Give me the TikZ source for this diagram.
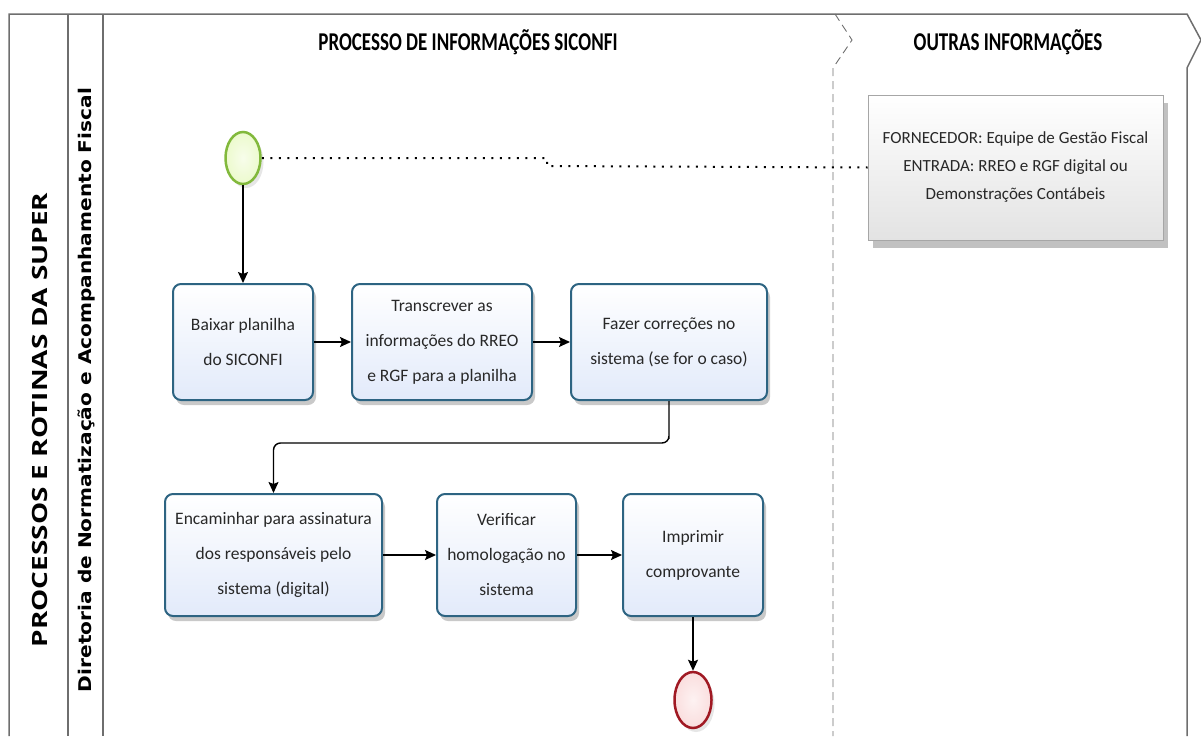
\documentclass[tikz,border=0pt]{standalone}
\usepackage{fontspec}
\setmainfont{Carlito}
\newfontfamily\lanefont{DejaVu Sans}
\newfontfamily\poolfont{Open Sans}
\usepackage{graphicx}
\usepackage{xcolor}
\usepackage{tikz}
\usetikzlibrary{arrows.meta}
\usetikzlibrary{shapes.geometric}
\usetikzlibrary{shadows}
\definecolor{taskline}{RGB}{45,100,130}
\definecolor{taskfill}{RGB}{226,234,250}
\definecolor{startline}{RGB}{130,185,60}
\definecolor{startfill}{RGB}{236,250,205}
\definecolor{endline}{RGB}{160,25,35}
\definecolor{endfill}{RGB}{250,222,222}
\definecolor{poolline}{RGB}{110,110,110}
\definecolor{textgray}{RGB}{40,40,40}
\tikzset{
  task/.style={draw=taskline, line width=2pt, rounded corners=8pt,
    top color=white, bottom color=taskfill, align=center, inner sep=3pt,
    drop shadow={shadow xshift=3pt, shadow yshift=-5pt, opacity=0.3, fill=black!70},
    font=\fontsize{17.5}{35}\selectfont, text=textgray},
  flow/.style={line width=1.4pt, -{Stealth[length=11pt,width=10pt,inset=2pt]}},
  assoc/.style={line width=2pt, dash pattern=on 2pt off 6.5pt},
  phase/.style={font=\bfseries\fontsize{19}{22}\selectfont}
}

\begin{document}
\begin{tikzpicture}[x=1pt,y=-1pt]
\useasboundingbox (0,0) rectangle (1201,736);
% pool and lanes
\draw[poolline, line width=1.5pt] (9,736) -- (9,14) -- (1187,14) -- (1201,40) -- (1187,68) -- (1187,736);
\draw[poolline, line width=1.5pt] (68,14) -- (68,736);
\draw[poolline, line width=1.5pt] (103,14) -- (103,736);
\draw[poolline, line width=0.9pt, dash pattern=on 8pt off 5pt] (835,14) -- (852,40) -- (833,68) -- (833,736);
\node[rotate=90, font=\poolfont\bfseries\fontsize{21}{24}\selectfont] (pool) at (40,420) {\scalebox{1.33}[1]{PROCESSOS E ROTINAS DA SUPER}};
\node[rotate=90, font=\lanefont\bfseries\fontsize{17.5}{20}\selectfont] (lane) at (87,390) {\scalebox{1.15}[1]{Diretoria de Normatização e Acompanhamento Fiscal}};
\node[phase] (phase1) at (468,42) {\scalebox{1}[1.35]{PROCESSO DE INFORMAÇÕES SICONFI}};
\node[phase] (phase2) at (1008,42) {\scalebox{1}[1.35]{OUTRAS INFORMAÇÕES}};

% events
\node[ellipse, draw=startline, line width=2.5pt, inner color=startfill!40, outer color=startfill,
  minimum width=35, minimum height=52, inner sep=0pt,
  drop shadow={shadow xshift=3pt, shadow yshift=-4pt, opacity=0.2}] (start) at (243,158) {};
\node[ellipse, draw=endline, line width=2.5pt, inner color=endfill!40, outer color=endfill,
  minimum width=37, minimum height=56, inner sep=0pt,
  drop shadow={shadow xshift=3pt, shadow yshift=-4pt, opacity=0.2}] (end) at (693,700) {};

% data input
\node[draw=gray!70, line width=0.8pt, top color=white, bottom color=gray!22, align=center,
  minimum width=295, minimum height=145, font=\fontsize{17}{28}\selectfont, text=textgray,
  drop shadow={shadow xshift=5pt, shadow yshift=-8pt, opacity=0.35, fill=black!70}] (input) at (1015.5,167.5)
  {FORNECEDOR: Equipe de Gestão Fiscal\\ENTRADA: RREO e RGF digital ou\\Demonstrações Contábeis};

% tasks
\node[task, minimum width=140, minimum height=116] (baixar) at (243,342) {Baixar planilha\\do SICONFI};
\node[task, minimum width=180, minimum height=116] (transcrever) at (442,342) {Transcrever as\\informações do RREO\\e RGF para a planilha};
\node[task, minimum width=196, minimum height=116] (corrigir) at (669,342) {Fazer correções no\\sistema (se for o caso)};
\node[task, minimum width=217, minimum height=122] (encaminhar) at (273.5,555) {Encaminhar para assinatura\\dos responsáveis pelo\\sistema (digital)};
\node[task, minimum width=139, minimum height=122] (verificar) at (506.5,555) {Verificar\\homologação no\\sistema};
\node[task, minimum width=140, minimum height=122] (imprimir) at (693,555) {Imprimir\\comprovante};

% connectors
\coordinate (jog) at (547,166);
\coordinate (turn) at (669,443);
\draw[assoc] (start.east) -| (jog) -- (input.west);
\draw[flow] (start.south) -- (baixar.north);
\draw[flow] (baixar) -- (transcrever);
\draw[flow] (transcrever) -- (corrigir);
\draw[flow, rounded corners=7pt] (corrigir.south) |- (turn) -| (encaminhar.north);
\draw[flow] (encaminhar) -- (verificar);
\draw[flow] (verificar) -- (imprimir);
\draw[flow] (imprimir.south) -- (end.north);
\end{tikzpicture}
\end{document}
